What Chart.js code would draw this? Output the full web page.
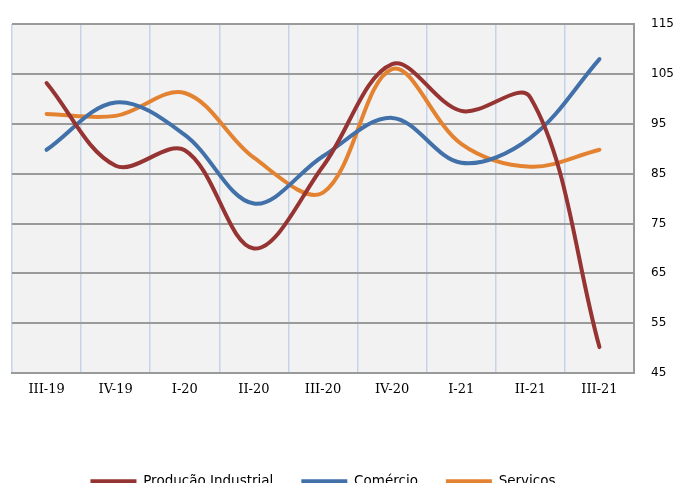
<!DOCTYPE html>
<html>
<head>
<meta charset="utf-8">
<script src="https://cdn.jsdelivr.net/npm/chart.js@4/dist/chart.umd.min.js"></script>
<style>
  html, body { margin: 0; padding: 0; background: #ffffff; overflow: hidden; }
  #chart { display: block; }
</style>
</head>
<body>
<canvas id="chart" width="678" height="498"></canvas>
<script>
// Quarterly indices (III-19 .. III-21)
const quarters = ['III-19', 'IV-19', 'I-20', 'II-20', 'III-20', 'IV-20', 'I-21', 'II-21', 'III-21'];
const producaoIndustrial = [103.2, 86.6, 89.7, 70.0, 86.5, 107.0, 97.6, 100.3, 50.2];
const comercio = [89.8, 99.3, 92.8, 79.0, 88.5, 96.2, 87.2, 92.2, 108.0];
const servicos = [97.0, 96.6, 101.2, 88.2, 81.2, 106.0, 91.0, 86.4, 89.8];
const yMin = 45;
const yMax = 115;
const yStep = 10;

// Light grey fill behind the plotting area
const plotBackground = {
  id: 'plotBackground',
  beforeDraw(chart) {
    const { ctx, chartArea: a } = chart;
    ctx.save();
    ctx.fillStyle = '#f2f2f2';
    ctx.fillRect(a.left, a.top, a.right - a.left, a.bottom - a.top);
    ctx.restore();
  }
};

const line = (label, data, color) => ({
  label,
  data,
  borderColor: color,
  backgroundColor: color,
  borderWidth: 4,
  pointRadius: 0,
  pointHoverRadius: 0,
  tension: 0.35,
  fill: false,
  borderCapStyle: 'round'
});

new Chart(document.getElementById('chart'), {
  type: 'line',
  data: {
    labels: quarters,
    datasets: [
      line('Produção Industrial', producaoIndustrial, '#953432'),
      line('Comércio', comercio, '#4271aa'),
      line('Serviços', servicos, '#e38332')
    ]
  },
  plugins: [plotBackground],
  options: {
    responsive: false,
    animation: false,
    devicePixelRatio: 1,
    layout: { padding: { left: 12, top: 23, right: 0, bottom: 0 } },
    plugins: {
      title: { display: false },
      tooltip: { enabled: false },
      legend: {
        position: 'bottom',
        align: 'center',
        fullSize: false,
        labels: {
          boxWidth: 46,
          boxHeight: 0,
          padding: 28,
          color: '#000000',
          font: { family: '"DejaVu Sans", Verdana, sans-serif', size: 13.5 }
        }
      }
    },
    scales: {
      x: {
        offset: true,
        grid: { offset: true, color: '#c6d4ea', lineWidth: 1.5, drawTicks: false },
        border: { display: true, color: '#9a9a9a', width: 2 },
        ticks: {
          color: '#000000',
          padding: 9,
          maxRotation: 0,
          autoSkip: false,
          font: { family: '"DejaVu Serif", Cambria, serif', size: 13 }
        },
        afterFit(scale) { scale.height = 73.5; }
      },
      y: {
        position: 'right',
        min: yMin,
        max: yMax,
        grid: { color: '#9a9a9a', lineWidth: 2, drawTicks: false },
        border: { display: true, color: '#9a9a9a', width: 2 },
        ticks: {
          stepSize: yStep,
          autoSkip: false,
          color: '#000000',
          padding: 17,
          font: { family: '"DejaVu Sans", Verdana, sans-serif', size: 12 }
        },
        afterFit(scale) { scale.width = 44; }
      }
    }
  }
});
</script>
</body>
</html>
